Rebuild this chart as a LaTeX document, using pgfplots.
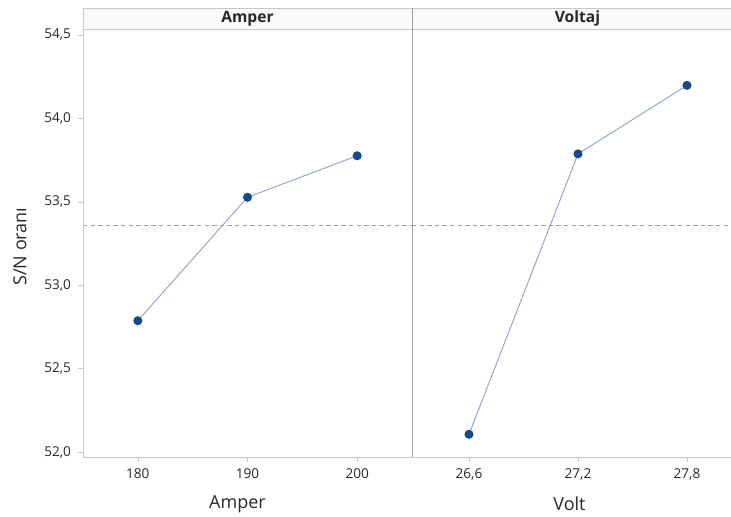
\documentclass[border=0pt]{standalone}
\usepackage{pgfplots}
\pgfplotsset{compat=1.18}
\usepackage{fontspec}
\setmainfont{Open Sans}
\definecolor{ptblue}{RGB}{22,72,140}
\definecolor{lnblue}{RGB}{150,168,200}
\definecolor{framegray}{RGB}{200,200,200}
\definecolor{sepgray}{RGB}{160,160,160}
\definecolor{refgray}{RGB}{160,160,160}
\definecolor{txt}{RGB}{40,40,40}

\begin{document}
\begin{tikzpicture}[x=1pt,y=1pt]
\useasboundingbox (0,0) rectangle (365.5,258.5);
\pgfplotsset{
  panel/.style={
    scale only axis, height=214pt,
    ymin=51.97, ymax=54.536,
    axis x line*=bottom, axis y line*=left,
    axis line style={framegray,-},
    tick align=outside, major tick length=2.5pt,
    tick style={framegray},
    xtick={0,1,2},
    ticklabel style={font=\fontsize{6.8}{8}\selectfont, text=txt},
    /pgf/number format/assume math mode=true,
  },
  effect/.style={lnblue, line width=0.5pt, mark=*, mark size=2pt,
    mark options={draw=ptblue, fill=ptblue}},
  grand/.style={refgray, line width=0.6pt, dash pattern=on 2.2pt off 1.6pt},
}

% strip headers
\fill[gray!4] (41.5,244) rectangle (365.5,254.5);
\draw[framegray] (41.5,254.5) -- (365.5,254.5);
\draw[framegray] (41.5,244) -- (365.5,244);

% Amper panel
\begin{axis}[panel, at={(41.5pt,30pt)}, anchor=south west, width=164.5pt,
  xmin=-0.5, xmax=2.5, xticklabels={180,190,200},
  ytick={52,52.5,53,53.5,54,54.5},
  yticklabel style={/pgf/number format/.cd, use comma, fixed, fixed zerofill, precision=1}]
  \addplot[grand] coordinates {(-0.5,53.36) (2.5,53.36)};
  \addplot[effect] coordinates {(0,52.787) (1,53.527) (2,53.776)};
\end{axis}

% Voltaj panel
\begin{axis}[panel, at={(206pt,30pt)}, anchor=south west, width=159.5pt,
  xmin=-0.523, xmax=2.404, xticklabels={{26,6},{27,2},{27,8}},
  ytick=\empty, axis y line=none]
  \addplot[grand] coordinates {(-0.523,53.36) (2.404,53.36)};
  \addplot[effect] coordinates {(0,52.106) (1,53.787) (2,54.198)};
\end{axis}

\draw[framegray] (41.5,30) -- (41.5,254.5);
\draw[sepgray, line width=0.5pt] (206,30) -- (206,254.5);

% headers and axis titles
\node[font=\bfseries\fontsize{7.8}{9}\selectfont, text=txt] at (123.75,249.25) {Amper};
\node[font=\bfseries\fontsize{7.8}{9}\selectfont, text=txt] at (288.75,249.25) {Voltaj};
\node[font=\fontsize{9}{10}\selectfont, text=txt] at (118.75,6.5) {Amper};
\node[font=\fontsize{9}{10}\selectfont, text=txt] at (284.75,6.5) {Volt};
\node[font=\fontsize{9}{10}\selectfont, text=txt, rotate=90] at (10,135.2) {S/N oranı};
\end{tikzpicture}
\end{document}
